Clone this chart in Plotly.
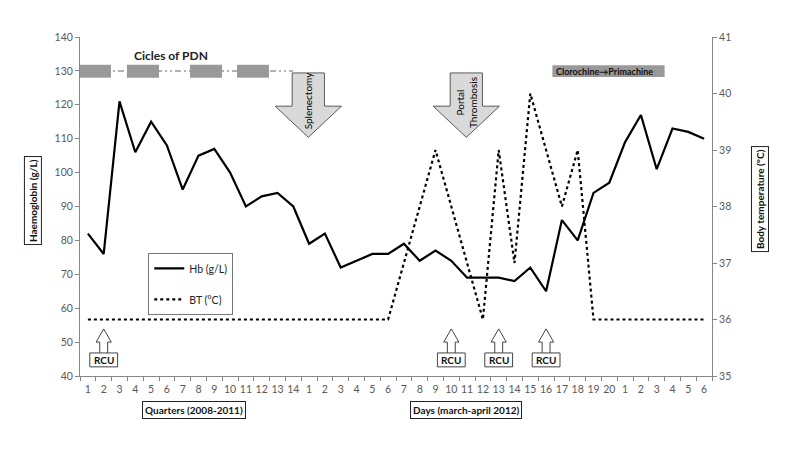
import plotly.graph_objects as go

# ---------------- data ----------------
tick_labels = [str(i) for i in range(1, 15)] + [str(i) for i in range(1, 21)] + [str(i) for i in range(1, 7)]
hb_values = [82, 76, 121, 106, 115, 108, 95, 105, 107, 100, 90, 93, 94, 90,
             79, 82, 72, 74, 76, 76, 79, 74, 77, 74, 69, 69, 69, 68, 72, 65,
             86, 80, 94, 97, 109, 117, 101, 113, 112, 110]
bt_values = [36] * 20 + [37, 38, 39, 38, 37, 36, 39, 37, 40, 39, 38, 39, 36] + [36] * 7
rcu_index = [1, 23, 26, 29]
pdn_cycles = [(-0.5, 1.46), (2.47, 4.5), (6.46, 8.49), (9.44, 11.46)]
x_idx = list(range(len(tick_labels)))

FONT = "Lato"
AX = "#868686"
TXT = "#595959"

fig = go.Figure()
fig.add_trace(go.Scatter(x=x_idx, y=hb_values, mode="lines", name="Hb (g/L)",
                         line=dict(color="black", width=2.2), legendgroup="a"))
fig.add_trace(go.Scatter(x=x_idx, y=bt_values, mode="lines", name="BT (°C)", yaxis="y2",
                         line=dict(color="black", width=2.2, dash="dot"), legendgroup="b"))

shapes = []
annotations = []

# PDN cycles
shapes.append(dict(type="line", xref="x", yref="y", x0=-0.5, x1=12.98, y0=130, y1=130,
                   line=dict(color="#9a9a9a", width=1.5, dash="6px,3px,2px,3px,2px,3px"), layer="below"))
for a, b in pdn_cycles:
    shapes.append(dict(type="rect", xref="x", yref="y", x0=a, x1=b, y0=128.0, y1=131.8,
                       fillcolor="#999999", line=dict(width=0)))
annotations.append(dict(text="<b>Cicles of PDN</b>", x=5.27, y=131.6, xref="x", yref="y",
                        showarrow=False, yanchor="bottom", font=dict(family=FONT, size=12, color="#222")))

# big down arrows
def down_arrow(cx, sh, hh, top, base, tip):
    return (f"M {cx-sh} {top} L {cx+sh} {top} L {cx+sh} {base} L {cx+hh} {base} "
            f"L {cx} {tip} L {cx-hh} {base} L {cx-sh} {base} Z")

for cx in (13.95, 23.95):
    shapes.append(dict(type="path", xref="x", yref="y",
                       path=down_arrow(cx, 1.02, 2.1, 129.4, 119.6, 110.4),
                       fillcolor="#d9d9d9", line=dict(color="#5a5a5a", width=1)))
annotations.append(dict(text="Splenectomy", x=13.95, y=121.4, xref="x", yref="y", showarrow=False,
                        textangle=-90, font=dict(family=FONT, size=10, color="black")))
annotations.append(dict(text="Portal<br>Thrombosis", x=23.95, y=120.6, xref="x", yref="y", showarrow=False,
                        textangle=-90, font=dict(family=FONT, size=10, color="black")))

# Clorochine box
shapes.append(dict(type="rect", xref="x", yref="y", x0=29.4, x1=36.5, y0=128.2, y1=131.7,
                   fillcolor="#999999", line=dict(width=0)))
annotations.append(dict(text="<b>Clorochine→Primachine</b>", x=32.7, y=129.95, xref="x", yref="y",
                        showarrow=False, font=dict(family=FONT, size=9, color="#111")))

# RCU hollow arrows
for i in rcu_index:
    path = (f"M {i-0.25} 46.8 L {i-0.25} 50.0 L {i-0.48} 50.0 L {i} 53.9 L {i+0.48} 50.0 "
            f"L {i+0.25} 50.0 L {i+0.25} 46.8")
    shapes.append(dict(type="path", xref="x", yref="y", path=path, fillcolor="white",
                       line=dict(color="#444", width=1)))
    shapes.append(dict(type="rect", xref="x", yref="y", x0=i - 0.88, x1=i + 0.88, y0=42.7, y1=46.8,
                       fillcolor="white", line=dict(color="#444", width=1)))
    annotations.append(dict(text="<b>RCU</b>", x=i, y=44.75, xref="x", yref="y", showarrow=False,
                            font=dict(family=FONT, size=10, color="#111")))

# axis titles in boxes
def boxed(text, x, y, angle=0):
    return dict(text=f"<b>{text}</b>", x=x, y=y, xref="paper", yref="paper", showarrow=False,
                textangle=angle, xanchor="center", yanchor="middle",
                bordercolor="#222", borderwidth=1, borderpad=2, bgcolor="white",
                font=dict(family=FONT, size=10, color="#111"))

annotations.append(boxed("Haemoglobin (g/L)", -0.0744, 0.519, -90))
annotations.append(boxed("Body temperature (°C)", 1.076, 0.522, -90))
annotations.append(boxed("Quarters (2008-2011)", 0.181, -0.1003))
annotations.append(boxed("Days (march-april 2012)", 0.61, -0.1003))

# page body has an 8px margin, so the figure is shrunk and offset accordingly
fig.update_layout(
    width=779, height=447,
    margin=dict(l=72, r=75, t=29, b=79),
    paper_bgcolor="white", plot_bgcolor="white",
    font=dict(family=FONT, size=11, color=TXT),
    shapes=shapes, annotations=annotations,
    showlegend=True,
    legend=dict(x=0.108, y=0.363, xanchor="left", yanchor="top",
                bordercolor="#777", borderwidth=1, bgcolor="white",
                font=dict(family=FONT, size=10.5, color="#222"),
                tracegroupgap=12, itemwidth=30),
    xaxis=dict(range=[-0.5, 39.5], tickmode="array", tickvals=x_idx, ticktext=tick_labels,
               showgrid=False, zeroline=False, showline=True, linecolor=AX, linewidth=1,
               ticks="outside", ticklen=3, tickcolor="rgba(0,0,0,0)",
               minor=dict(ticks="outside", ticklen=4, tickcolor=AX, tick0=-0.5, dtick=1, showgrid=False),
               tickfont=dict(family=FONT, size=10.5, color=TXT)),
    yaxis=dict(range=[40, 140], tickmode="linear", tick0=40, dtick=10,
               showgrid=False, zeroline=False, showline=True, linecolor=AX, linewidth=1,
               ticks="outside", ticklen=4, tickcolor=AX,
               tickfont=dict(family=FONT, size=10.5, color=TXT)),
    yaxis2=dict(range=[35, 41], tickmode="linear", tick0=35, dtick=1, overlaying="y", side="right",
                showgrid=False, zeroline=False, showline=True, linecolor=AX, linewidth=1,
                ticks="outside", ticklen=4, tickcolor=AX,
                tickfont=dict(family=FONT, size=10.5, color=TXT)),
)

fig.write_html("out.html")
